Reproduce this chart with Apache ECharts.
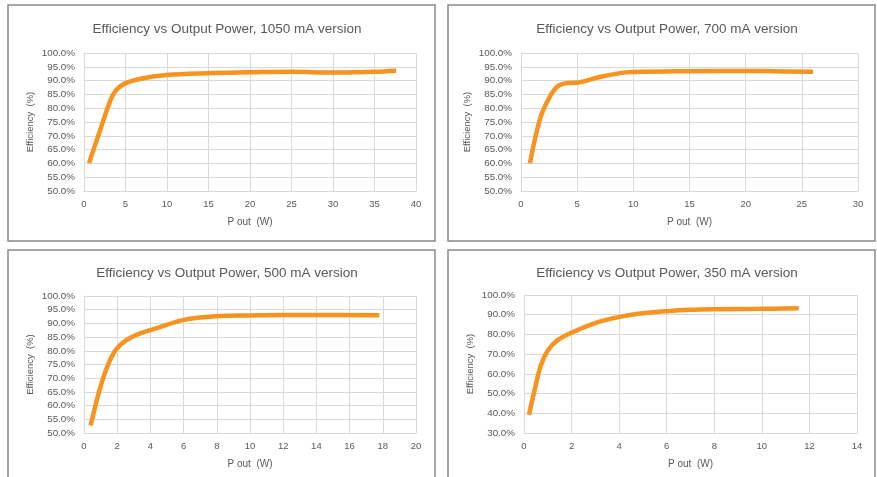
<!DOCTYPE html>
<html>
<head>
<meta charset="utf-8">
<script src="https://cdn.jsdelivr.net/npm/echarts@6/dist/echarts.min.js"></script>
<style>
html,body{margin:0;padding:0;background:#fff;}
#c{width:877px;height:477px;}
</style>
</head>
<body>
<div id="c"></div>
<script>
// Data (Pout in W, efficiency in %)
const titles = [
  'Efficiency vs Output Power, 1050 mA version',
  'Efficiency vs Output Power, 700 mA version',
  'Efficiency vs Output Power, 500 mA version',
  'Efficiency vs Output Power, 350 mA version'
];
const p1050 = [0.6, 2.0, 3.1, 3.8, 4.9, 6.7, 9.9, 14.9, 20, 25, 30, 32.4, 35, 37.6];
const e1050 = [60.1, 72.5, 82.2, 86.3, 88.9, 90.6, 92.0, 92.7, 93.0, 93.2, 92.9, 93.0, 93.2, 93.6];
const p700 = [0.8, 1.7, 2.4, 3.2, 3.9, 5.25, 7.0, 8.8, 10, 15, 20, 22.5, 26];
const e700 = [60.1, 76.2, 82.9, 87.7, 89.0, 89.4, 91.3, 92.7, 93.1, 93.4, 93.5, 93.4, 93.2];
const p500 = [0.4, 0.94, 1.44, 1.95, 2.55, 3.35, 4.35, 5.96, 7.96, 9.97, 12, 14, 17.8];
const e500 = [52.7, 65.7, 74.8, 80.6, 83.9, 86.3, 88.2, 91.2, 92.6, 92.9, 93.1, 93.1, 93.0];
const p350 = [0.21, 0.45, 0.7, 1.0, 1.4, 2.06, 3.05, 4.03, 5.01, 6.0, 7.0, 7.96, 9.9, 11.55];
const e350 = [39.3, 52.0, 64.0, 71.8, 77.0, 81.2, 86.0, 88.9, 90.7, 91.8, 92.5, 92.8, 93.0, 93.3];
// axis ranges
const xMax = [40, 30, 20, 14];
const xStep = [5, 5, 2, 2];
const yMin = [50, 50, 50, 30];
const yStep = [5, 5, 5, 10];

const series = [[p1050, e1050], [p700, e700], [p500, e500], [p350, e350]];
const grids = [
  {left: 84, top: 53, width: 332, height: 138},
  {left: 521, top: 53, width: 337, height: 138},
  {left: 84, top: 296, width: 332, height: 137},
  {left: 524, top: 295, width: 333, height: 138}
];
const titlePos = [[222, 17], [662, 17], [222, 261], [662, 261]];
const font = 'Liberation Sans, Arial, sans-serif';
const gray = '#595959';
const gridCol = '#D9D9D9';

const option = {
  animation: false,
  backgroundColor: '#fff',
  title: titles.map((t, i) => ({
    text: t, left: titlePos[i][0], top: titlePos[i][1], textAlign: 'center',
    textStyle: {fontFamily: font, fontSize: 13.5, fontWeight: 'normal', color: gray}
  })),
  grid: grids,
  xAxis: grids.map((g, i) => ({
    type: 'value', gridIndex: i, min: 0, max: xMax[i], interval: xStep[i],
    name: 'P out  (W)', nameLocation: 'middle', nameGap: 26,
    nameTextStyle: {fontFamily: font, fontSize: 10, color: gray},
    axisLine: {show: true, lineStyle: {color: gridCol}},
    axisTick: {show: false},
    axisLabel: {fontFamily: font, fontSize: 9.5, color: gray, margin: 8},
    splitLine: {show: true, lineStyle: {color: gridCol}}
  })),
  yAxis: grids.map((g, i) => ({
    type: 'value', gridIndex: i, min: yMin[i], max: 100, interval: yStep[i],
    name: 'Efficiency  (%)', nameLocation: 'middle', nameGap: 49,
    nameTextStyle: {fontFamily: font, fontSize: 9.5, color: gray},
    axisLine: {show: true, lineStyle: {color: gridCol}},
    axisTick: {show: false},
    axisLabel: {fontFamily: font, fontSize: 9.8, color: gray, margin: 9,
      formatter: v => v.toFixed(1) + '%'},
    splitLine: {show: true, lineStyle: {color: gridCol}}
  })),
  series: series.map((s, i) => ({
    type: 'line', xAxisIndex: i, yAxisIndex: i, smooth: 0.4, symbol: 'none',
    lineStyle: {color: '#F7931E', width: 4.5},
    data: s[0].map((x, k) => [x, s[1][k]])
  })),
  graphic: [
    {type: 'rect', shape: {x: 8, y: 5, width: 427, height: 236}, style: {fill: 'none', stroke: '#8a8a8a', lineWidth: 1.5}, silent: true},
    {type: 'rect', shape: {x: 448, y: 5, width: 427, height: 236}, style: {fill: 'none', stroke: '#8a8a8a', lineWidth: 1.5}, silent: true},
    {type: 'rect', shape: {x: 8, y: 250, width: 427, height: 240}, style: {fill: 'none', stroke: '#8a8a8a', lineWidth: 1.5}, silent: true},
    {type: 'rect', shape: {x: 448, y: 250, width: 427, height: 240}, style: {fill: 'none', stroke: '#8a8a8a', lineWidth: 1.5}, silent: true}
  ]
};
const chart = echarts.init(document.getElementById('c'));
chart.setOption(option);
</script>
</body>
</html>
